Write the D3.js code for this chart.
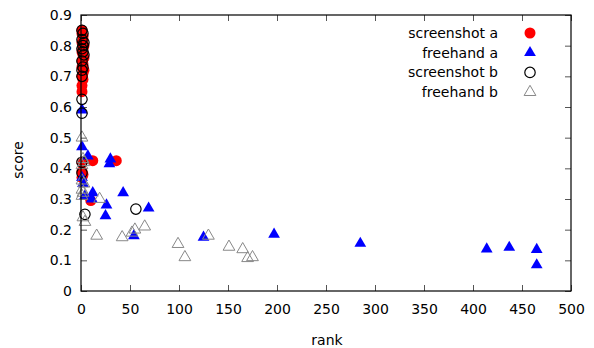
<!DOCTYPE html>
<html><head><meta charset="utf-8">
<script src="https://cdn.jsdelivr.net/npm/d3@7"></script>
<style>body{margin:0;background:#fff}svg{display:block}text{font-family:"DejaVu Sans",sans-serif;font-size:14px;fill:#000}</style>
</head><body><svg id="c" width="594" height="348"></svg>
<script>
const xTicks=[0,50,100,150,200,250,300,350,400,450,500];
const yTicks=[0,0.1,0.2,0.3,0.4,0.5,0.6,0.7,0.8,0.9];
const seriesNames=["screenshot a","freehand a","screenshot b","freehand b"];
const ranksSA=[1,1,2,2,1,3,2,1,2,3,1,2,1,3,2,1,2,1,1,1,1,2,1,12,36,10];
const scoresSA=[0.85,0.84,0.83,0.82,0.81,0.80,0.79,0.78,0.77,0.76,0.75,0.74,0.73,0.72,0.71,0.70,0.69,0.67,0.65,0.42,0.39,0.38,0.37,0.425,0.425,0.295];
const ranksFA=[1,1,7,30,29,1,2,4,12,11,43,26,25,69,54,125,197,285,414,437,465,465];
const scoresFA=[0.59,0.47,0.44,0.43,0.415,0.37,0.35,0.31,0.32,0.30,0.32,0.28,0.245,0.27,0.18,0.175,0.185,0.155,0.137,0.142,0.135,0.085];
const ranksSB=[1,2,1,3,2,1,2,3,1,2,1,1,1,1,1,1,4,56];
const scoresSB=[0.85,0.84,0.82,0.81,0.80,0.79,0.78,0.77,0.75,0.73,0.72,0.70,0.625,0.58,0.42,0.385,0.25,0.267];
const ranksFB=[1,2,1,3,1,2,1,2,4,19,16,42,52,55,65,99,106,130,151,165,170,175,3,1];
const scoresFB=[0.50,0.43,0.41,0.35,0.33,0.32,0.31,0.24,0.225,0.30,0.18,0.175,0.19,0.20,0.21,0.153,0.11,0.18,0.144,0.136,0.107,0.11,0.42,0.36];

const L=81,R=571,T=15,B=291;
const x=d3.scaleLinear().domain([0,500]).range([L,R]);
const y=d3.scaleLinear().domain([0,0.9]).range([B,T]);
const svg=d3.select("#c");

const styles=[
 {type:d3.symbolCircle,size:95,fill:"#ff0000",stroke:"none",sw:0},
 {type:d3.symbolTriangle,size:60,fill:"#0000ff",stroke:"none",sw:0},
 {type:d3.symbolCircle,size:85,fill:"none",stroke:"#000",sw:1.2},
 {type:d3.symbolTriangle,size:60,fill:"none",stroke:"#888",sw:1}
];
const data=[[ranksSA,scoresSA],[ranksFA,scoresFA],[ranksSB,scoresSB],[ranksFB,scoresFB]];

const g=svg.append("g");
g.append("g").attr("transform",`translate(0,${B})`).call(d3.axisBottom(x).tickValues(xTicks).tickSize(-6).tickPadding(13).tickFormat(d3.format("d")))
 .call(a=>{a.select(".domain").remove();a.selectAll("line").attr("stroke","#555");a.selectAll("text").style("font-size","14px");});
g.append("g").attr("transform",`translate(0,${T})`).call(d3.axisTop(x).tickValues(xTicks).tickSize(-6).tickFormat(""))
 .call(a=>{a.select(".domain").remove();a.selectAll("line").attr("stroke","#555");});
g.append("g").attr("transform",`translate(${L},0)`).call(d3.axisLeft(y).tickValues(yTicks).tickSize(-6).tickPadding(9).tickFormat(d=>d===0?"0":d3.format(".1f")(d)))
 .call(a=>{a.select(".domain").remove();a.selectAll("line").attr("stroke","#555");a.selectAll("text").style("font-size","14px");});
g.append("g").attr("transform",`translate(${R},0)`).call(d3.axisRight(y).tickValues(yTicks).tickSize(-6).tickFormat(""))
 .call(a=>{a.select(".domain").remove();a.selectAll("line").attr("stroke","#555");});
g.selectAll(".tick text").attr("fill","#000").style("font-family","DejaVu Sans");

data.forEach((d,i)=>{
  const s=styles[i];
  const sym=d3.symbol().type(s.type).size(s.size);
  svg.append("g").selectAll("path").data(d[0].map((r,j)=>[r,d[1][j]])).join("path")
   .attr("d",sym).attr("transform",p=>`translate(${x(p[0])},${y(p[1])})`)
   .attr("fill",s.fill).attr("stroke",s.stroke).attr("stroke-width",s.sw);
});

svg.append("rect").attr("x",L).attr("y",T).attr("width",R-L).attr("height",B-T).attr("fill","none").attr("stroke","#000").attr("stroke-width",1.2);

seriesNames.forEach((n,i)=>{
  const yy=33+i*19.7;
  svg.append("text").attr("x",498).attr("y",yy).attr("text-anchor","end").attr("dy","0.35em").text(n);
  const s=styles[i];
  svg.append("path").attr("d",d3.symbol().type(s.type).size(s.size)()).attr("transform",`translate(530,${yy})`)
   .attr("fill",s.fill).attr("stroke",s.stroke).attr("stroke-width",s.sw);
});

svg.append("text").attr("x",327).attr("y",340).attr("text-anchor","middle").attr("dy","0.35em").text("rank");
svg.append("text").attr("transform","translate(18,160) rotate(-90)").attr("text-anchor","middle").attr("dy","0.35em").text("score");
</script></body></html>
